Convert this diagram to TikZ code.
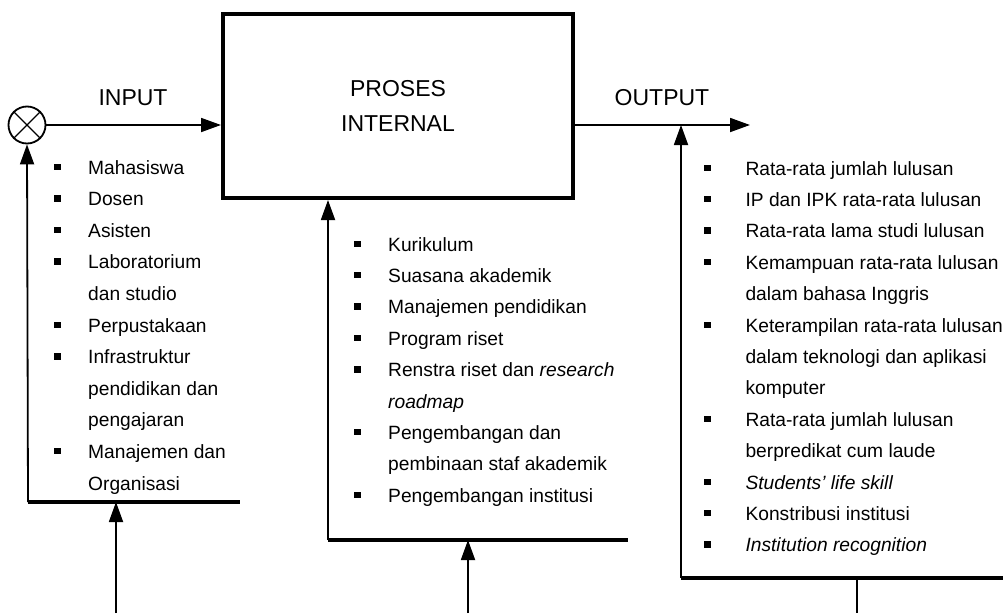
\documentclass[tikz,border=0pt]{standalone}
\usepackage{fontspec}
\setmainfont{Liberation Sans}
\usetikzlibrary{arrows.meta}
\newcommand\bsq[1][34pt]{\makebox[#1][l]{\rule[4pt]{6.5pt}{6.5pt}}}
\newcommand\bcn[1][34pt]{\hspace*{#1}}
\begin{document}
\begin{tikzpicture}[x=1pt,y=-1pt,
  thinline/.style={line width=1.8pt},
  thickline/.style={line width=4pt},
  arr/.style={thinline,-{Triangle[length=20pt,width=14pt]}},
  lbl/.style={font=\fontsize{23}{28}\selectfont, inner sep=0},
  item/.style={font=\fontsize{19.2}{24}\selectfont, inner sep=0, anchor=base west}]
\useasboundingbox (0,0) rectangle (1003,613);
% summing junction
\node[draw, circle, thinline, minimum size=37pt, inner sep=0] (sum) at (27,125) {};
\draw[line width=1.2pt] (sum.north west) -- (sum.south east) (sum.north east) -- (sum.south west);
% process box
\node[draw, line width=4pt, minimum width=350pt, minimum height=184pt, align=center,
      font=\fontsize{23}{35}\selectfont] (box) at (398,106) {PROSES\\INTERNAL};
% labels
\node[lbl, anchor=base] (inlbl) at (133,105) {INPUT};
\node[lbl, anchor=base] (outlbl) at (662,105) {OUTPUT};
% main flow
\coordinate (outend) at (750,125);
\draw[arr] (sum.east) -- (sum.east -| box.west);
\draw[arr] (box.east |- sum) -- (outend);
% input feedback
\coordinate (inbarL) at (28,502);
\coordinate (inbarR) at (240,502);
\coordinate (inbot) at (116,613);
\draw[thickline] (inbarL) -- (inbarR);
\draw[arr] (inbarL) -- (sum.south);
\draw[arr] (inbot) -- (inbot |- inbarL);
% process feedback
\coordinate (mbarL) at (328,540);
\coordinate (mbarR) at (628,540);
\coordinate (mbot) at (468,613);
\draw[thickline] (mbarL) -- (mbarR);
\draw[arr] (mbarL) -- (mbarL |- box.south);
\draw[arr] (mbot) -- (mbot |- mbarL);
% output feedback
\coordinate (obarL) at (681,578);
\coordinate (obarR) at (1003,578);
\coordinate (obot) at (857,613);
\draw[thickline] (obarL) -- (obarR);
\draw[arr] (obarL) -- (obarL |- outend);
\draw[thinline] (obot |- obarL) -- (obot);
% input list
\foreach \t [count=\i] in {{\bsq Mahasiswa},{\bsq Dosen},{\bsq Asisten},{\bsq Laboratorium},
  {\bcn dan studio},{\bsq Perpustakaan},{\bsq Infrastruktur},{\bcn pendidikan dan},
  {\bcn pengajaran},{\bsq Manajemen dan},{\bcn Organisasi}}
  \node[item] (in\i) at (54,{174+31.6*(\i-1)}) {\t};
% process list
\foreach \t [count=\i] in {{\bsq Kurikulum},{\bsq Suasana akademik},{\bsq Manajemen pendidikan},
  {\bsq Program riset},{\bsq Renstra riset dan \textit{research}},{\bcn\textit{roadmap}},
  {\bsq Pengembangan dan},{\bcn pembinaan staf akademik},{\bsq Pengembangan institusi}}
  \node[item] (pr\i) at (354,{251+31.4*(\i-1)}) {\t};
% output list
\foreach \t [count=\i] in {{\bsq[36pt] Rata-rata jumlah lulusan},{\bsq[36pt] IP dan IPK rata-rata lulusan},
  {\bsq[36pt] Rata-rata lama studi lulusan},{\bsq[36pt] Kemampuan rata-rata lulusan},
  {\bcn[36pt] dalam bahasa Inggris},{\bsq[36pt] Keterampilan rata-rata lulusan},
  {\bcn[36pt] dalam teknologi dan aplikasi},{\bcn[36pt] komputer},
  {\bsq[36pt] Rata-rata jumlah lulusan},{\bcn[36pt] berpredikat cum laude},
  {\bsq[36pt] \textit{Students’ life skill}},{\bsq[36pt] Konstribusi institusi},
  {\bsq[36pt] \textit{Institution recognition}}}
  \node[item] (ou\i) at (704,{175+31.4*(\i-1)}) {\t};
\end{tikzpicture}
\end{document}
